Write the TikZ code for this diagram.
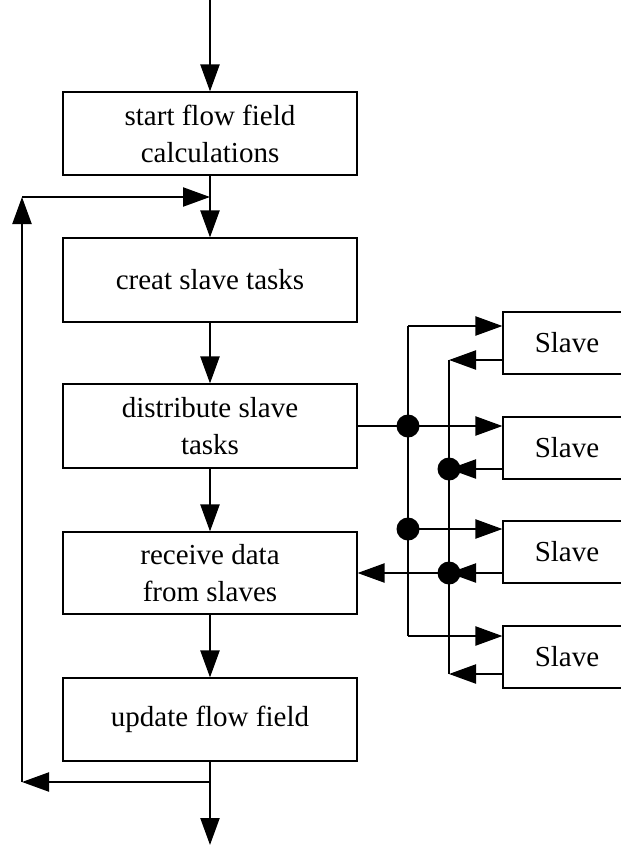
\documentclass[tikz,border=0pt]{standalone}
\usepackage{fontspec}
\setmainfont{Liberation Serif}
\usetikzlibrary{arrows.meta}

\begin{document}
\begin{tikzpicture}[x=1pt,y=-1pt,
  box/.style={shape=rectangle,draw=black,line width=1.1pt,minimum width=294pt,align=center,font=\fontsize{29}{37}\selectfont},
  slavebox/.style={shape=rectangle,draw=black,line width=1.1pt,minimum width=128pt,minimum height=62pt,font=\fontsize{29}{37}\selectfont},
  conn/.style={line width=2.2pt},
  flow/.style={line width=2.2pt,-{Triangle[length=27pt,width=19pt]}},
  dot/.style={shape=circle,fill=black,inner sep=0pt,minimum size=23pt}]
\clip (0,0) rectangle (621,846);
\node[box,minimum height=83pt] (start) at (210,133.5) {start flow field\\calculations};
\node[box,minimum height=84pt] (creat) at (210,280) {creat slave tasks};
\node[box,minimum height=84pt] (dist) at (210,426) {distribute slave\\tasks};
\node[box,minimum height=82pt] (recv) at (210,573) {receive data\\from slaves};
\node[box,minimum height=83pt] (upd) at (210,719.5) {update flow field};
\node[slavebox] (s1) at (567,343) {Slave};
\node[slavebox] (s2) at (567,448) {Slave};
\node[slavebox] (s3) at (567,552) {Slave};
\node[slavebox] (s4) at (567,657) {Slave};
\coordinate (top) at (210,0);
\coordinate (bot) at (210,845);
\coordinate (fbb) at (210,782);
\coordinate (fbc) at (22,782);
\coordinate (fbl) at (22,197);
\coordinate (fbr) at (210,197);
\coordinate (o1) at (408,326);
\coordinate (o2) at (dist.east -| o1);
\coordinate (o3) at (408,529);
\coordinate (o4) at (408,636);
\coordinate (i1) at (449,360);
\coordinate (i2) at (449,469);
\coordinate (i3) at (recv.east -| i1);
\coordinate (i4) at (449,674);
\draw[flow] (top) -- (start.north);
\draw[flow] (start.south) -- (creat.north);
\draw[flow] (creat.south) -- (dist.north);
\draw[flow] (dist.south) -- (recv.north);
\draw[flow] (recv.south) -- (upd.north);
\draw[flow] (upd.south) -- (bot);
\draw[flow] (fbb) -- (fbc);
\draw[flow] (fbc) -- (fbl);
\draw[flow] (fbl) -- (fbr);
\draw[conn] (dist.east) -- (o2);
\draw[conn] (o1) -- (o4);
\draw[conn] (i1) -- (i4);
\foreach \k in {1,...,4} {
  \draw[flow] (o\k) -- (s\k.west |- o\k);
  \draw[flow] (s\k.west |- i\k) -- (i\k);
}
\draw[flow] (i3) -- (recv.east);
\node[dot] (d1) at (o2) {};
\node[dot] (d2) at (o3) {};
\node[dot] (d3) at (i2) {};
\node[dot] (d4) at (i3) {};
\end{tikzpicture}
\end{document}
